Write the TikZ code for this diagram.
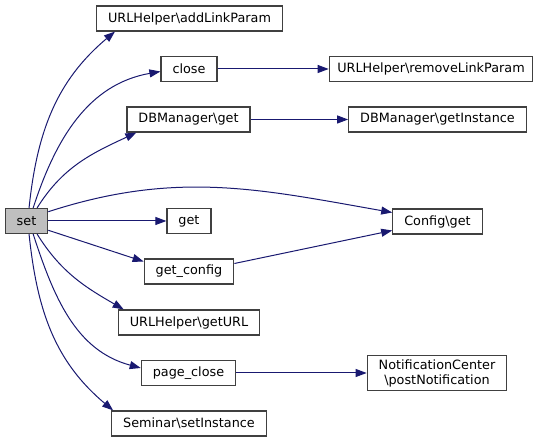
\documentclass[tikz,border=0pt]{standalone}
\usepackage{fontspec}
\setmainfont{DejaVu Sans}
\usepackage{tikz}
\usetikzlibrary{arrows.meta}
\definecolor{callblue}{RGB}{25,25,112}
\definecolor{rootgray}{RGB}{191,191,191}
\definecolor{boxline}{RGB}{64,64,64}

\begin{document}
\begin{tikzpicture}[x=1pt, y=1pt,
  fn/.style={draw=boxline, line width=1.2pt, fill=white, minimum height=25pt,
    inner xsep=11.5pt, inner ysep=4pt, align=center,
    font=\fontsize{12.8}{15}\selectfont},
  call/.style={draw=callblue, line width=1pt,
    -{Triangle[length=11pt, width=8pt]}, fill=none}]
\useasboundingbox (0,0) rectangle (549,443);

% root
\node[fn, fill=rootgray] (set) at (26.5,222) {set};

% first level
\node[fn] (addlink)   at (189.5,424.5) {URLHelper\textbackslash addLinkParam};
\node[fn] (close)     at (189,374)     {close};
\node[fn] (dbget)     at (188.5,323.5) {DBManager\textbackslash get};
\node[fn] (get)       at (189,222)     {get};
\node[fn] (getconfig) at (189,171.5)   {get\_config};
\node[fn] (geturl)    at (189,120.5)   {URLHelper\textbackslash getURL};
\node[fn] (pageclose) at (188.5,70)    {page\_close};
\node[fn] (setinst)   at (189,19.5)    {Seminar\textbackslash setInstance};

% second level
\node[fn, inner xsep=8pt] (removelink) at (431,374) {URLHelper\textbackslash removeLinkParam};
\node[fn] (dbinst)     at (437.5,323.5) {DBManager\textbackslash getInstance};
\node[fn] (configget)  at (437.5,221.5) {Config\textbackslash get};
\node[fn] (postnotif)  at (437,70)      {NotificationCenter\\\textbackslash postNotification};

% calls from set
\draw[call] (set.79) to[out=84, in=220] ([xshift=19pt]addlink.south west);
\draw[call] (set.63) to[out=72, in=190] ([yshift=-2.5pt]close.west);
\draw[call] (set.51) to[out=58, in=205] ([xshift=10pt]dbget.south west);
\draw[call] (set.23) to[out=18, in=170] ([yshift=9pt]configget.west);
\draw[call] (set.east) -- (get.west);
\draw[call] (set.-23) -- ([yshift=10pt]getconfig.west);
\draw[call] (set.-51) to[out=-58, in=150] ([xshift=6pt]geturl.north west);
\draw[call] (set.-63) to[out=-72, in=165] ([yshift=5pt]pageclose.west);
\draw[call] (set.-79) to[out=-84, in=140] ([xshift=2pt]setinst.north west);

% second level calls
\draw[call] (close.east) -- (removelink.west);
\draw[call] (dbget.east) -- (dbinst.west);
\draw[call] ([yshift=8pt]getconfig.east) -- ([yshift=-9pt]configget.west);
\draw[call] (pageclose.east) -- (postnotif.west);
\end{tikzpicture}
\end{document}
